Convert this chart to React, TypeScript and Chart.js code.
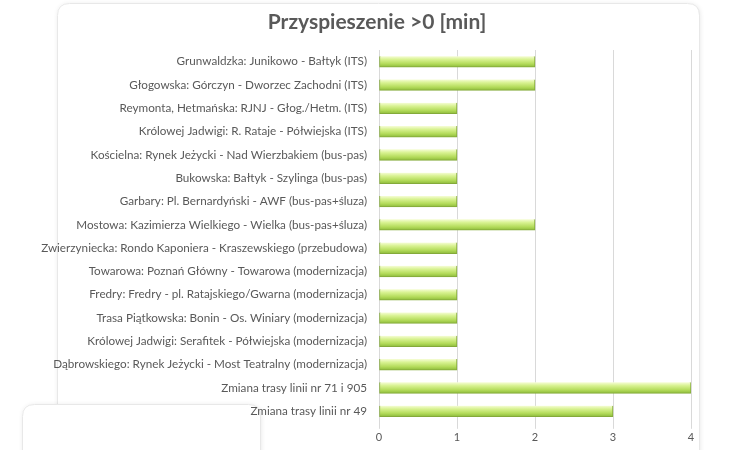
import React, { useEffect, useRef } from "react";
import { Chart, registerables } from "chart.js";

Chart.register(...registerables);

const TITLE = "Przyspieszenie >0 [min]";

const categories: string[] = [
  "Grunwaldzka: Junikowo - Bałtyk (ITS)",
  "Głogowska: Górczyn - Dworzec Zachodni (ITS)",
  "Reymonta, Hetmańska: RJNJ - Głog./Hetm. (ITS)",
  "Królowej Jadwigi: R. Rataje - Półwiejska (ITS)",
  "Kościelna: Rynek Jeżycki - Nad Wierzbakiem (bus-pas)",
  "Bukowska: Bałtyk - Szylinga (bus-pas)",
  "Garbary: Pl. Bernardyński - AWF (bus-pas+śluza)",
  "Mostowa: Kazimierza Wielkiego - Wielka (bus-pas+śluza)",
  "Zwierzyniecka: Rondo Kaponiera - Kraszewskiego (przebudowa)",
  "Towarowa: Poznań Główny - Towarowa (modernizacja)",
  "Fredry: Fredry - pl. Ratajskiego/Gwarna (modernizacja)",
  "Trasa Piątkowska: Bonin - Os. Winiary (modernizacja)",
  "Królowej Jadwigi: Serafitek - Półwiejska (modernizacja)",
  "Dąbrowskiego: Rynek Jeżycki - Most Teatralny (modernizacja)",
  "Zmiana trasy linii nr 71 i 905",
  "Zmiana trasy linii nr 49",
];

const values: number[] = [2, 2, 1, 1, 1, 1, 1, 2, 1, 1, 1, 1, 1, 1, 4, 3];

const xTicks: number[] = [0, 1, 2, 3, 4];

const FONT = "Lato, 'Open Sans', sans-serif";
const TEXT = "#595959";
const BAR_T = 11;

function roundRect(ctx: CanvasRenderingContext2D, x: number, y: number, w: number, h: number, r: number) {
  ctx.beginPath();
  ctx.moveTo(x + r, y);
  ctx.lineTo(x + w - r, y);
  ctx.quadraticCurveTo(x + w, y, x + w, y + r);
  ctx.lineTo(x + w, y + h - r);
  ctx.quadraticCurveTo(x + w, y + h, x + w - r, y + h);
  ctx.lineTo(x + r, y + h);
  ctx.quadraticCurveTo(x, y + h, x, y + h - r);
  ctx.lineTo(x, y + r);
  ctx.quadraticCurveTo(x, y, x + r, y);
  ctx.closePath();
}

const panelPlugin = {
  id: "panelBg",
  beforeDraw(chart: any) {
    const ctx = chart.ctx as CanvasRenderingContext2D;
    ctx.save();
    ctx.fillStyle = "#ffffff";
    ctx.fillRect(0, 0, chart.width, chart.height);
    const panels = [
      [57, 3, 642, 470],
      [22, 404, 238, 80],
    ];
    for (const [x, y, w, h] of panels) {
      ctx.save();
      ctx.shadowColor = "rgba(0,0,0,0.10)";
      ctx.shadowBlur = 5;
      ctx.shadowOffsetX = 1;
      ctx.shadowOffsetY = 1;
      roundRect(ctx, x, y, w, h, 12);
      ctx.fillStyle = "#ffffff";
      ctx.fill();
      ctx.restore();
      roundRect(ctx, x + 0.5, y + 0.5, w, h, 12);
      ctx.strokeStyle = "#e8e8e8";
      ctx.lineWidth = 1;
      ctx.stroke();
    }
    // chart title (real text)
    ctx.fillStyle = TEXT;
    ctx.font = `bold 21px ${FONT}`;
    ctx.textAlign = "center";
    ctx.textBaseline = "middle";
    ctx.fillText(TITLE, 377, 22.5);
    ctx.restore();
  },
};

export default function App() {
  const ref = useRef<HTMLCanvasElement | null>(null);

  useEffect(() => {
    document.body.style.margin = "0";
    const canvas = ref.current;
    if (!canvas) return;

    const barFill = (c: any) => {
      const chart = c.chart;
      const ys = chart.scales && chart.scales.y;
      if (!ys || c.dataIndex == null) return "#b5dd5c";
      const cy = ys.getPixelForValue(c.dataIndex);
      if (!Number.isFinite(cy)) return "#b5dd5c";
      const g = chart.ctx.createLinearGradient(0, cy - BAR_T / 2, 0, cy + BAR_T / 2);
      g.addColorStop(0, "#f6fdd6");
      g.addColorStop(0.3, "#d8f291");
      g.addColorStop(0.7, "#b3db5a");
      g.addColorStop(1, "#8dba3b");
      return g;
    };

    const chart = new Chart(canvas, {
      type: "bar",
      data: {
        labels: categories,
        datasets: [
          {
            data: values,
            backgroundColor: barFill,
            borderColor: "#84aa3a",
            borderWidth: { top: 0, right: 1, bottom: 1, left: 1 },
            borderSkipped: false,
            barThickness: BAR_T,
          },
        ],
      },
      options: {
        indexAxis: "y",
        animation: false,
        responsive: false,
        layout: { padding: { left: 0, right: 45, top: 50, bottom: 4 } },
        plugins: {
          legend: { display: false },
          tooltip: { enabled: false },
          title: { display: false },
        },
        scales: {
          x: {
            min: 0,
            max: 4,
            afterBuildTicks: (s: any) => {
              s.ticks = xTicks.map((v) => ({ value: v }));
            },
            grid: { color: "#d9d9d9", drawTicks: true, tickLength: 6 },
            border: { display: false },
            ticks: { color: TEXT, font: { family: FONT, size: 11 }, padding: 2 },
          },
          y: {
            afterFit: (s: any) => {
              s.width = 379;
            },
            grid: { display: false, drawTicks: false },
            border: { display: false },
            ticks: {
              color: TEXT,
              font: { family: FONT, size: 11.7 },
              padding: 12,
              autoSkip: false,
            },
          },
        },
      },
      plugins: [panelPlugin],
    });

    return () => chart.destroy();
  }, []);

  return <canvas ref={ref} width={736} height={450} style={{ display: "block" }} />;
}
